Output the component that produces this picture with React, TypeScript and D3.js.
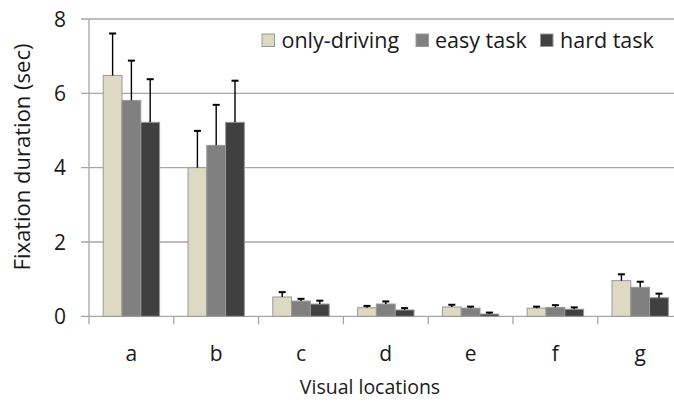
import React from "react";
import * as d3 from "d3";

const categories = ["a", "b", "c", "d", "e", "f", "g"];
const seriesNames = ["only-driving", "easy task", "hard task"];
const onlyDriving = [6.48, 4.0, 0.52, 0.23, 0.25, 0.22, 0.96];
const onlyDrivingErr = [1.13, 0.99, 0.13, 0.05, 0.06, 0.04, 0.17];
const easyTask = [5.81, 4.6, 0.41, 0.33, 0.22, 0.24, 0.78];
const easyTaskErr = [1.07, 1.09, 0.06, 0.07, 0.04, 0.06, 0.15];
const hardTask = [5.22, 5.22, 0.33, 0.17, 0.06, 0.19, 0.5];
const hardTaskErr = [1.16, 1.12, 0.09, 0.05, 0.04, 0.05, 0.11];
const yTicks = [0, 2, 4, 6, 8];

const colors = ["#DDD9C3", "#808080", "#404040"];
const values = [onlyDriving, easyTask, hardTask];
const errs = [onlyDrivingErr, easyTaskErr, hardTaskErr];

export default function App() {
  const W = 674, H = 404;
  const left = 89, plotRight = 682.6, top = 19, bottom = 316.3;
  const font = "'Open Sans', 'Noto Sans', sans-serif";
  const x = d3.scaleBand<string>().domain(categories).range([left, plotRight]).paddingInner(0).paddingOuter(0);
  const y = d3.scaleLinear().domain([0, 8]).range([bottom, top]);
  const groupW = x.bandwidth() * 0.665;
  const barW = groupW / 3;
  const ink = "#1a1a1a";
  const legendItems = [
    { sx: 262, tx: 281.5 },
    { sx: 416, tx: 435 },
    { sx: 540.5, tx: 560 },
  ];
  return (
    <svg width={W} height={H} style={{ position: "absolute", left: 0, top: 0, background: "#fff" }} fontFamily={font}>
      {yTicks.map((t) => (
        <g key={t}>
          <line x1={81} x2={W} y1={y(t)} y2={y(t)} stroke="#a6a6a6" strokeWidth={1.3} />
          <text x={66} y={y(t)} dy="0.36em" textAnchor="end" fontSize={21} fill={ink}>{t}</text>
        </g>
      ))}
      <line x1={left} x2={left} y1={top} y2={bottom + 8} stroke="#a6a6a6" strokeWidth={1.3} />
      {categories.map((c) => (
        <line key={c} x1={(x(c) as number) + x.bandwidth()} x2={(x(c) as number) + x.bandwidth()} y1={bottom} y2={bottom + 8} stroke="#a6a6a6" strokeWidth={1.3} />
      ))}
      {categories.map((c, i) => {
        const gx = (x(c) as number) + (x.bandwidth() - groupW) / 2;
        return (
          <g key={c}>
            {values.map((vals, s) => {
              const bx = gx + s * barW;
              return (
                <rect key={s} x={bx} y={y(vals[i])} width={barW} height={bottom - y(vals[i])} fill={colors[s]} stroke="#999" strokeWidth={1} />
              );
            })}
            {values.map((vals, s) => {
              const cx = gx + s * barW + barW / 2;
              const yt = y(vals[i] + errs[s][i]);
              return (
                <g key={"e" + s}>
                  <line x1={cx} x2={cx} y1={y(vals[i])} y2={yt} stroke="#000" strokeWidth={1.4} />
                  <line x1={cx - 3.5} x2={cx + 3.5} y1={yt} y2={yt} stroke="#000" strokeWidth={2} />
                </g>
              );
            })}
            <text x={(x(c) as number) + x.bandwidth() / 2} y={354} dy="0.35em" textAnchor="middle" fontSize={21} fill={ink}>{c}</text>
          </g>
        );
      })}
      {seriesNames.map((n, s) => (
        <g key={n}>
          <rect x={legendItems[s].sx} y={34} width={12.5} height={12.5} fill={colors[s]} stroke="#999" strokeWidth={1} />
          <text x={legendItems[s].tx} y={40} dy="0.35em" fontSize={21.5} fill={ink}>{n}</text>
        </g>
      ))}
      <text x={370} y={387.5} dy="0.35em" textAnchor="middle" fontSize={19.5} fill={ink}>Visual locations</text>
      <text transform={`translate(22,157) rotate(-90)`} dy="0.35em" textAnchor="middle" fontSize={22} fill={ink}>Fixation duration (sec)</text>
    </svg>
  );
}
